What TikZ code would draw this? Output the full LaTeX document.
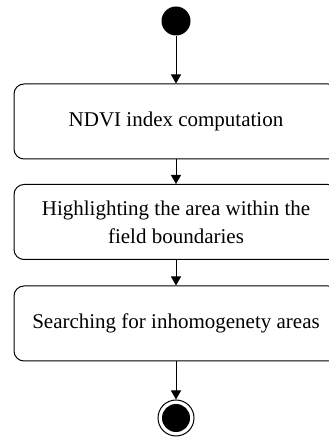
\documentclass[tikz,border=0pt]{standalone}
\usepackage{fontspec}
\setmainfont{Liberation Serif}
\usetikzlibrary{arrows.meta}

\begin{document}
\begin{tikzpicture}[x=1pt, y=1pt, line width=0.5pt,
    act/.style = {draw, rounded corners=5pt, minimum width=162pt, minimum height=37.5pt, align=center, inner sep=0pt, font=\fontsize{10.5}{14}\selectfont},
    initial/.style = {circle, fill=black, minimum size=14.5pt, inner sep=0pt},
    final/.style = {circle, draw, minimum size=18pt, inner sep=0pt,
        path picture={\fill (path picture bounding box.center) circle (7pt);}},
    flow/.style = {-{Triangle[width=5pt, length=4.5pt]}}]

    \useasboundingbox (0, 0) rectangle (164, 219.5);

    \node[initial] (start) at (88, 209) {};

    \node[act] (ndvi) at (88, 158.75) {NDVI index computation};
    \node[act] (field) at (88, 108.5) {Highlighting the area within the\\field boundaries};
    \node[act] (search) at (88, 57.75) {Searching for inhomogenety areas};

    \node[final] (stop) at (88, 10.5) {};

    \draw[flow] (start) -- (ndvi);
    \draw[flow] (ndvi) -- (field);
    \draw[flow] (field) -- (search);
    \draw[flow] (search) -- (stop);

\end{tikzpicture}
\end{document}
